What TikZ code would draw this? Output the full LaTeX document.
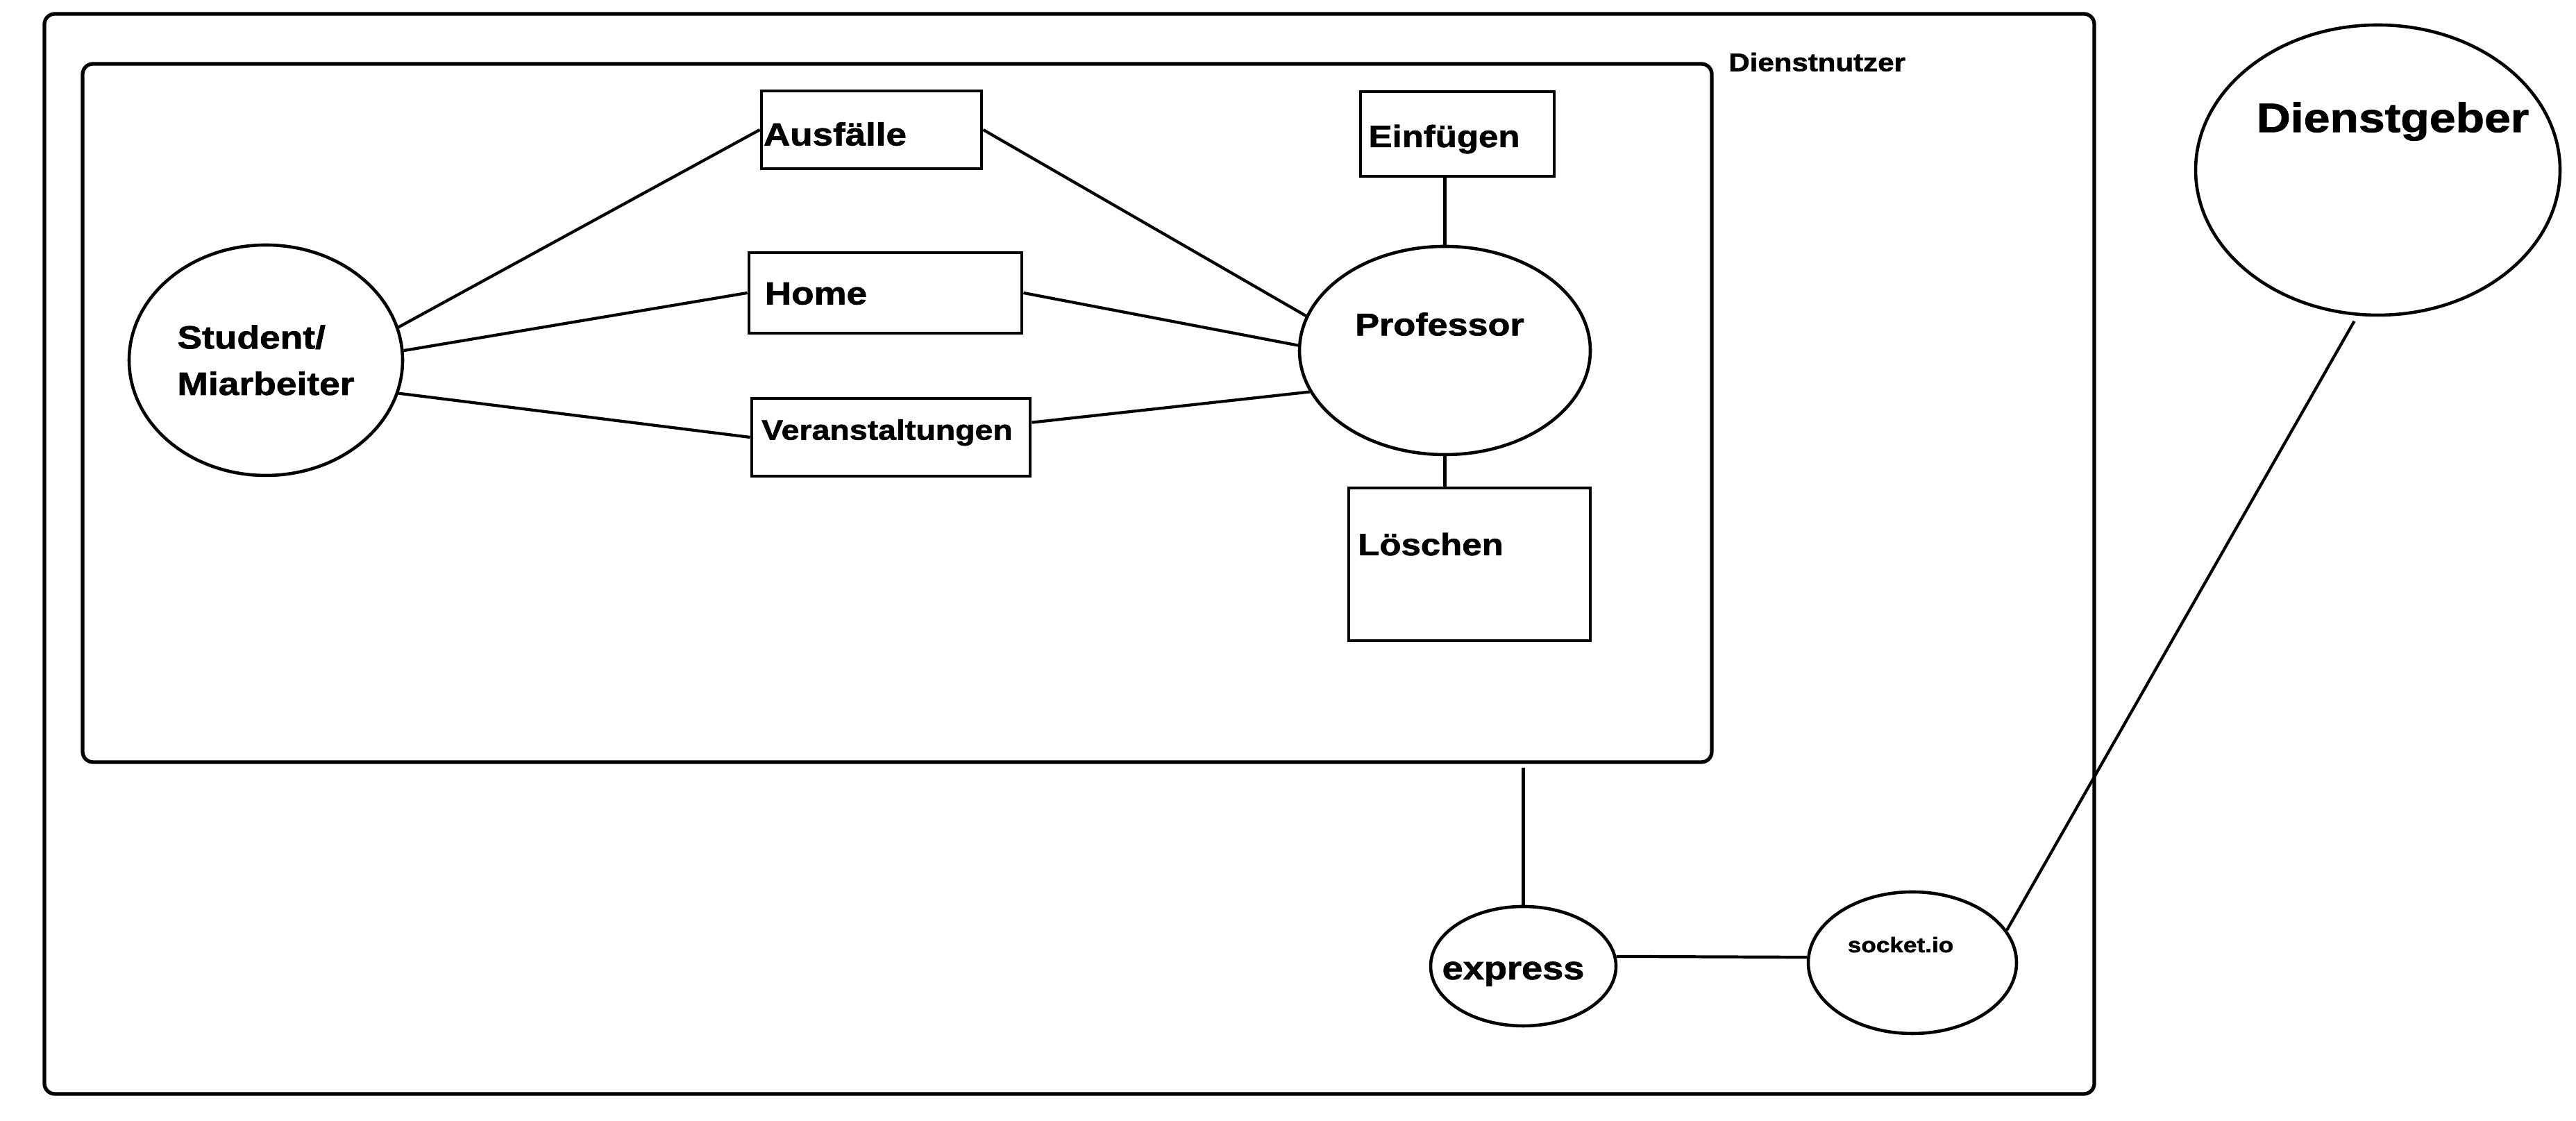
\documentclass[tikz,border=0pt]{standalone}
\usepackage{fontspec}
\setmainfont{Liberation Sans}[FakeStretch=1.15, BoldFeatures={FakeBold=1.5}]
\usetikzlibrary{shapes.geometric}
\begin{document}
\begin{tikzpicture}[
  frame/.style={draw, line width=1.5pt, rounded corners=0.15cm, inner sep=0pt},
  box/.style={draw, line width=1.4pt, inner sep=0pt},
  oval/.style={draw, ellipse, line width=1.3pt, inner sep=0pt},
  txt/.style={inner sep=0pt, text height=0.72*#1pt, text depth=0pt,
    font=\bfseries\fontsize{#1}{19}\selectfont},
  txt/.default=13.1,
  link/.style={line width=1.2pt}
]
  \useasboundingbox (0,0) rectangle (37.11,16.15);

  % Rahmen
  \node[frame, minimum width=29.53cm, minimum height=15.56cm] (outer) at (15.405,8.17) {};
  \node[frame, minimum width=23.47cm, minimum height=10.06cm] (inner) at (12.925,10.20) {};
  \node[txt=10.4, anchor=west] (nutzer) at ([xshift=0.21cm]inner.north east) {Dienstnutzer};

  % Seiten
  \node[oval, minimum width=3.94cm, minimum height=3.32cm,
    label={[inner sep=0pt, align=left, font=\bfseries\fontsize{13.2}{19}\selectfont]center:Student/\\Miarbeiter}]
    (student) at (3.83,10.96) {};
  \node[box, minimum width=3.17cm, minimum height=1.12cm,
    label={[txt, xshift=-0.525cm, yshift=-0.06cm]center:Ausfälle}] (ausf) at (12.555,14.28) {};
  \node[box, minimum width=3.93cm, minimum height=1.16cm,
    label={[txt, xshift=-1.0cm]center:Home}] (home) at (12.755,11.93) {};
  \node[box, minimum width=4.01cm, minimum height=1.12cm,
    label={[txt=11.5, xshift=-0.055cm, yshift=0.11cm]center:Veranstaltungen}] (veran) at (12.835,9.85) {};
  \node[oval, minimum width=4.19cm, minimum height=3.0cm,
    label={[txt=12.9, xshift=-0.075cm, yshift=0.38cm]center:Professor}] (prof) at (20.815,11.10) {};
  \node[box, minimum width=2.79cm, minimum height=1.22cm,
    label={[txt=12.6, xshift=-0.19cm, yshift=-0.03cm]center:Einfügen}] (einf) at (20.995,14.22) {};
  \node[box, minimum width=3.48cm, minimum height=2.2cm,
    label={[txt=12.6, xshift=-0.56cm, yshift=0.29cm]center:Löschen}] (loesch) at (21.17,8.02) {};

  % Server
  \node[oval, minimum width=2.67cm, minimum height=1.72cm,
    label={[txt=13.4, xshift=-0.145cm, yshift=-0.02cm]center:express}] (express) at (21.945,2.23) {};
  \node[oval, minimum width=3.0cm, minimum height=2.04cm,
    label={[txt=8.7, xshift=-0.17cm, yshift=0.26cm]center:socket.io}] (socket) at (27.55,2.28) {};
  \node[oval, minimum width=5.25cm, minimum height=4.18cm,
    label={[txt=16.8, xshift=0.215cm, yshift=0.76cm]center:Dienstgeber}] (geber) at (34.255,13.70) {};

  % Verbindungen
  \draw[link] (student.14) -- (ausf.west);
  \draw[link] (student.4) -- (home.west);
  \draw[link] (student.-14) -- (veran.west);
  \draw[link] (ausf.east) -- (prof.166);
  \draw[link] (home.east) -- (prof.178);
  \draw[link] (veran.6) -- (prof.197);
  \draw[link] (prof.north) -- (prof.north |- einf.south);
  \draw[link] (prof.south) -- (prof.south |- loesch.north);
  \draw[link, shorten >=0.05cm] (express.north) -- (express.north |- inner.south);
  \draw[link] (express.6) -- (socket.177);
  \draw[link, shorten >=0.09cm] (socket.19) -- (geber.262);
\end{tikzpicture}
\end{document}
